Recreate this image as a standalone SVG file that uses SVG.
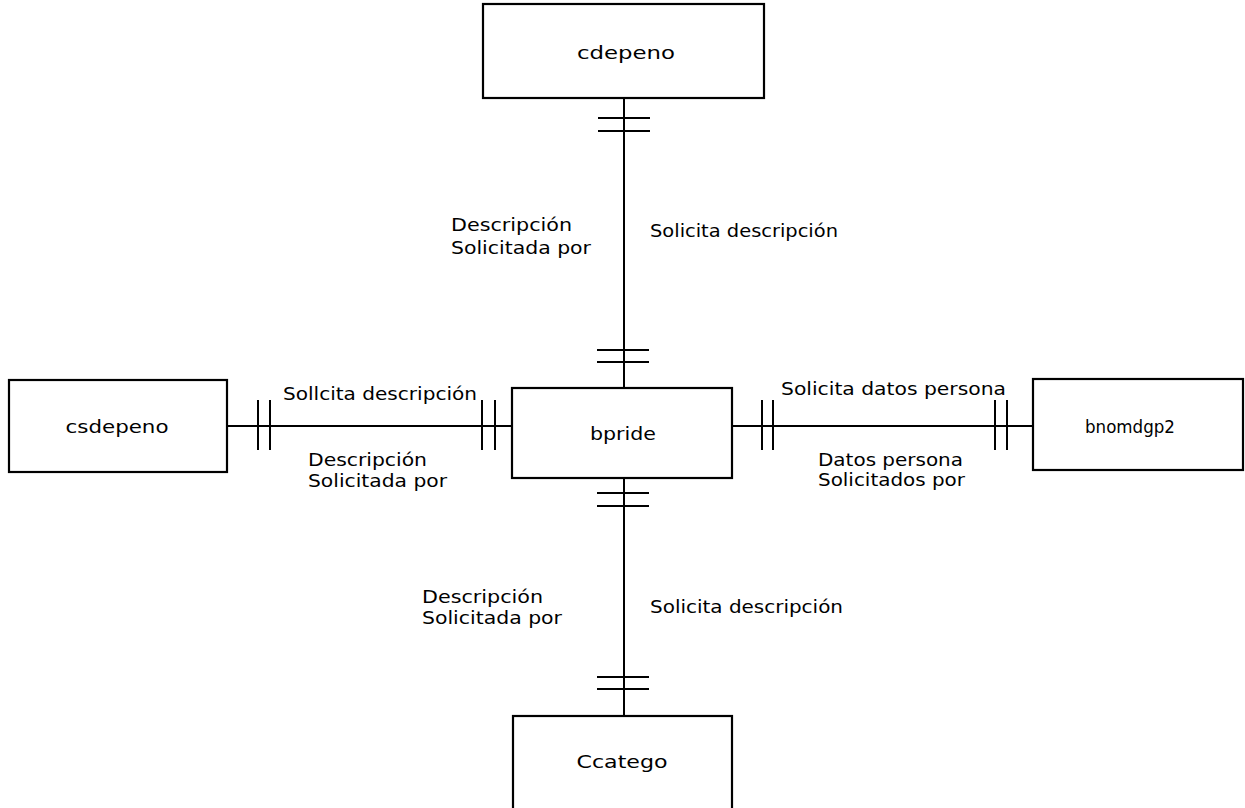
<svg xmlns="http://www.w3.org/2000/svg" width="1245" height="808" viewBox="0 0 1245 808">
  <style>
    .box { fill: #ffffff; stroke: #000000; stroke-width: 2.2; }
    .edge { fill: none; stroke: #000000; stroke-width: 2; }
    .tick { fill: none; stroke: #000000; stroke-width: 2; }
    .name { font-family: "DejaVu Sans", "Liberation Sans", sans-serif; font-size: 18px; fill: #000000; text-anchor: middle; }
    .lbl { font-family: "DejaVu Sans", "Liberation Sans", sans-serif; font-size: 18px; fill: #000000; }
  </style>
  <rect width="1245" height="808" fill="#ffffff"/>

  <!-- relationship lines with one-to-one cardinality bars -->
  <g id="connectors">
    <!-- cdepeno to bpride -->
    <line class="edge" x1="624" y1="98" x2="624" y2="388"/>
    <line class="tick" x1="598" y1="118" x2="650" y2="118"/>
    <line class="tick" x1="598" y1="131" x2="650" y2="131"/>
    <line class="tick" x1="597" y1="350" x2="649" y2="350"/>
    <line class="tick" x1="597" y1="362" x2="649" y2="362"/>
    <!-- bpride to Ccatego -->
    <line class="edge" x1="624" y1="478" x2="624" y2="716"/>
    <line class="tick" x1="597" y1="493" x2="649" y2="493"/>
    <line class="tick" x1="597" y1="506" x2="649" y2="506"/>
    <line class="tick" x1="597" y1="677" x2="649" y2="677"/>
    <line class="tick" x1="597" y1="689" x2="649" y2="689"/>
    <!-- csdepeno to bpride -->
    <line class="edge" x1="227" y1="426" x2="512" y2="426"/>
    <line class="tick" x1="258" y1="400" x2="258" y2="450"/>
    <line class="tick" x1="270" y1="400" x2="270" y2="450"/>
    <line class="tick" x1="482" y1="400" x2="482" y2="450"/>
    <line class="tick" x1="495" y1="400" x2="495" y2="450"/>
    <!-- bpride to bnomdgp2 -->
    <line class="edge" x1="732" y1="426" x2="1033" y2="426"/>
    <line class="tick" x1="762" y1="400" x2="762" y2="450"/>
    <line class="tick" x1="773" y1="400" x2="773" y2="450"/>
    <line class="tick" x1="995" y1="400" x2="995" y2="450"/>
    <line class="tick" x1="1007" y1="400" x2="1007" y2="450"/>

    <!-- relationship labels -->
    <text class="lbl" x="451" y="231" textLength="121" lengthAdjust="spacingAndGlyphs">Descripción</text>
    <text class="lbl" x="451" y="254" textLength="140" lengthAdjust="spacingAndGlyphs">Solicitada por</text>
    <text class="lbl" x="650" y="237" textLength="188" lengthAdjust="spacingAndGlyphs">Solicita descripción</text>

    <text class="lbl" x="283" y="400" textLength="194" lengthAdjust="spacingAndGlyphs">Sollcita descripción</text>
    <text class="lbl" x="308" y="466" textLength="119" lengthAdjust="spacingAndGlyphs">Descripción</text>
    <text class="lbl" x="308" y="487" textLength="139" lengthAdjust="spacingAndGlyphs">Solicitada por</text>

    <text class="lbl" x="781" y="395" textLength="225" lengthAdjust="spacingAndGlyphs">Solicita datos persona</text>
    <text class="lbl" x="818" y="466" textLength="145" lengthAdjust="spacingAndGlyphs">Datos persona</text>
    <text class="lbl" x="818" y="486" textLength="147" lengthAdjust="spacingAndGlyphs">Solicitados por</text>

    <text class="lbl" x="422" y="603" textLength="121" lengthAdjust="spacingAndGlyphs">Descripción</text>
    <text class="lbl" x="422" y="624" textLength="140" lengthAdjust="spacingAndGlyphs">Solicitada por</text>
    <text class="lbl" x="650" y="613" textLength="193" lengthAdjust="spacingAndGlyphs">Solicita descripción</text>
  </g>

  <!-- entities -->
  <g id="cdepeno">
    <rect class="box" x="483" y="4" width="281" height="94"/>
    <text class="name" x="626" y="59" textLength="98" lengthAdjust="spacingAndGlyphs">cdepeno</text>
  </g>
  <g id="bpride">
    <rect class="box" x="512" y="388" width="220" height="90"/>
    <text class="name" x="623" y="440" textLength="66" lengthAdjust="spacingAndGlyphs">bpride</text>
  </g>
  <g id="csdepeno">
    <rect class="box" x="9" y="380" width="218" height="92"/>
    <text class="name" x="117" y="433" textLength="103" lengthAdjust="spacingAndGlyphs">csdepeno</text>
  </g>
  <g id="bnomdgp2">
    <rect class="box" x="1033" y="379" width="210" height="91"/>
    <text class="name" x="1130" y="433" textLength="90" lengthAdjust="spacingAndGlyphs">bnomdgp2</text>
  </g>
  <g id="Ccatego">
    <rect class="box" x="513" y="716" width="219" height="100"/>
    <text class="name" x="622" y="768" textLength="91" lengthAdjust="spacingAndGlyphs">Ccatego</text>
  </g>
</svg>
